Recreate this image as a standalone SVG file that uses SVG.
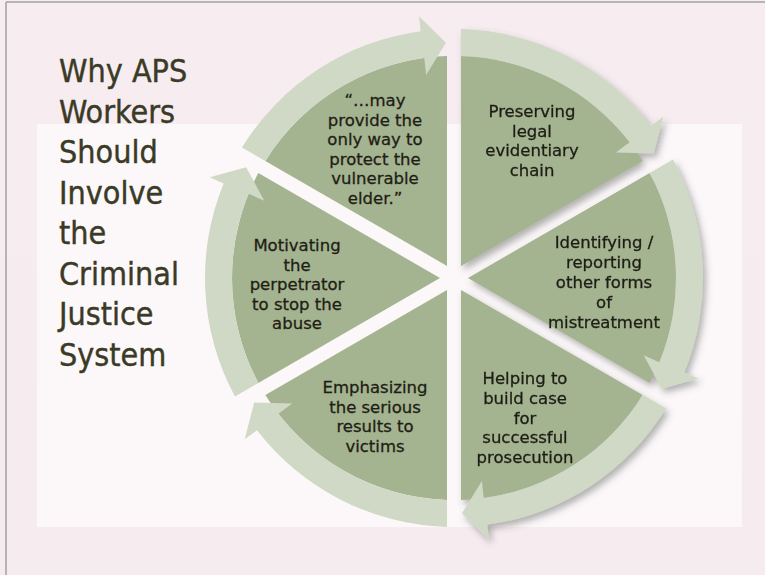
<svg xmlns="http://www.w3.org/2000/svg" xmlns:xlink="http://www.w3.org/1999/xlink" width="765" height="575" viewBox="0 0 765 575">
<style>
.dark{fill:#a4b390}
.ring{fill:#cfd9c5}
.lbl{font-family:'DejaVu Sans',sans-serif;font-size:16.5px;fill:#1e1e14;stroke:#1e1e14;stroke-width:0.3;text-anchor:middle}
.title{font-family:'DejaVu Sans Condensed','DejaVu Sans',sans-serif;font-stretch:condensed;font-size:32px;fill:#3a3a26;stroke:#3a3a26;stroke-width:0.4}
</style>
<defs>
<linearGradient id="bg" x1="0" y1="0" x2="0" y2="1">
<stop offset="0" stop-color="#f7edf1"/>
<stop offset="1" stop-color="#f6ebef"/>
</linearGradient>
<filter id="sh" x="-20%" y="-20%" width="140%" height="140%">
<feDropShadow dx="3" dy="4" stdDeviation="3.5" flood-color="#555" flood-opacity="0.45"/>
</filter>
<g id="seg">
<path class="dark" d="M461,265.88 L461,56.11 A222,222 0 0 1 642.66,160.99 Z"/>
<path class="ring" d="M461,29.10 A249,249 0 0 1 651.02,125.73 L663.30,116.78 L653.82,153.38 L615.78,152.41 L629.65,142.24 A222,222 0 0 0 461,56.11 Z"/>
</g>
</defs>
<rect x="0" y="0" width="765" height="575" fill="url(#bg)"/>
<rect x="37" y="124" width="705" height="403" fill="#fcf8f9"/>
<line x1="6" y1="2" x2="765" y2="2" stroke="#a0a0a0" stroke-width="1.5"/>
<line x1="6" y1="2" x2="6" y2="575" stroke="#a0a0a0" stroke-width="1.5"/>

<g id="title">
<text class="title" x="59"><tspan x="59" y="82">Why APS</tspan><tspan x="59" y="122.5">Workers</tspan><tspan x="59" y="163">Should</tspan><tspan x="59" y="203.5">Involve</tspan><tspan x="59" y="244">the</tspan><tspan x="59" y="284.5">Criminal</tspan><tspan x="59" y="325">Justice</tspan><tspan x="59" y="365.5">System</tspan></text>
</g>

<g id="connectors"></g>

<g id="node1">
<use xlink:href="#seg" transform="rotate(300 454 278)"/>
<text class="lbl"><tspan x="375" y="106">“…may</tspan><tspan x="375" dy="19.6">provide the</tspan><tspan x="375" dy="19.6">only way to</tspan><tspan x="375" dy="19.6">protect the</tspan><tspan x="375" dy="19.6">vulnerable</tspan><tspan x="375" dy="19.6">elder.”</tspan></text>
</g>
<g id="node6">
<use xlink:href="#seg" transform="rotate(240 454 278)"/>
<text class="lbl"><tspan x="297" y="251">Motivating</tspan><tspan x="297" dy="19.5">the</tspan><tspan x="297" dy="19.5">perpetrator</tspan><tspan x="297" dy="19.5">to stop the</tspan><tspan x="297" dy="19.5">abuse</tspan></text>
</g>
<g id="node5">
<use xlink:href="#seg" transform="rotate(180 454 278)"/>
<text class="lbl"><tspan x="375" y="393">Emphasizing</tspan><tspan x="375" dy="19.5">the serious</tspan><tspan x="375" dy="19.5">results to</tspan><tspan x="375" dy="19.5">victims</tspan></text>
</g>
<g id="node4" filter="url(#sh)">
<use xlink:href="#seg" transform="rotate(120 454 278)"/>
<text class="lbl"><tspan x="525" y="384">Helping to</tspan><tspan x="525" dy="19.8">build case</tspan><tspan x="525" dy="19.8">for</tspan><tspan x="525" dy="19.8">successful</tspan><tspan x="525" dy="19.8">prosecution</tspan></text>
</g>
<g id="node3" filter="url(#sh)">
<use xlink:href="#seg" transform="rotate(60 454 278)"/>
<text class="lbl"><tspan x="604" y="248">Identifying /</tspan><tspan x="604" dy="20">reporting</tspan><tspan x="604" dy="20">other forms</tspan><tspan x="604" dy="20">of</tspan><tspan x="604" dy="20">mistreatment</tspan></text>
</g>
<g id="node2" filter="url(#sh)">
<use xlink:href="#seg"/>
<text class="lbl"><tspan x="532" y="117">Preserving</tspan><tspan x="532" dy="19.5">legal</tspan><tspan x="532" dy="19.5">evidentiary</tspan><tspan x="532" dy="19.5">chain</tspan></text>
</g>
</svg>
